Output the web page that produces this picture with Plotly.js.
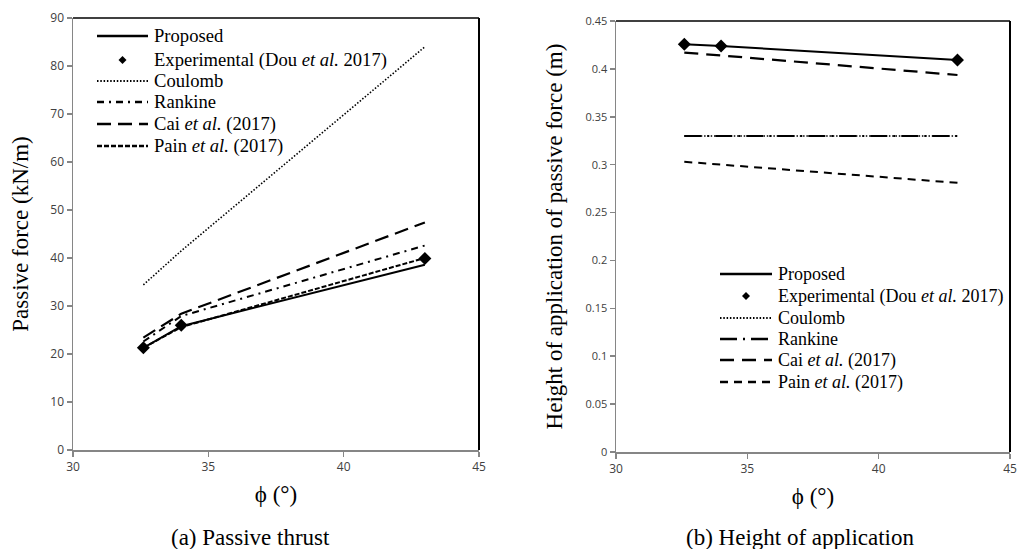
<!DOCTYPE html>
<html>
<head>
<meta charset="utf-8">
<script src="https://cdn.plot.ly/plotly-3.0.1.min.js"></script>
<style>html,body{margin:0;padding:0;background:#fff}#chart{width:1018px;height:549px}</style>
</head>
<body>
<div id="chart"></div>
<script>
// Friction angle (degrees)
const phi = [32.6, 34, 43];

// (a) Passive thrust, kN/m
const proposedP = [21.3, 25.8, 38.6];
const experimentalP = [21.3, 26.0, 39.9];
const coulombP = [34.4, 41.5, 84.0];
const rankineP = [22.6, 27.9, 42.6];
const caiP = [23.4, 28.4, 47.4];
const painP = [21.3, 25.6, 40.0];

// (b) Height of application, m
const proposedH = [0.4257, 0.4239, 0.4093];
const experimentalH = [0.4257, 0.4239, 0.4093];
const coulombH = [0.330, 0.330, 0.330];
const rankineH = [0.330, 0.330, 0.330];
const caiH = [0.417, 0.414, 0.3936];
const painH = [0.303, 0.300, 0.281];

const seriesNames = ['Proposed', 'Experimental (Dou <i>et al.</i> 2017)', 'Coulomb', 'Rankine',
  'Cai <i>et al.</i> (2017)', 'Pain <i>et al.</i> (2017)'];

const W = 1018, H = 549;
const serif = 'Liberation Serif, Times New Roman, serif';
const tickFont = {family: 'Open Sans, sans-serif', size: 12, color: '#404040'};

// line styles: [dash, width]; index 1 is the marker series
const stylesA = [['solid', 2], null, ['1.5px,1.8px', 1.6], ['7px,5px,2px,5px', 2], ['14px,7px', 2.2], ['5px,2px', 2]];
const stylesB = [['solid', 2], null, ['1.5px,1.8px', 1.6], ['17px,6px,2px,6px', 2], ['14px,8px', 2.2], ['8px,6px', 2]];

function lineTrace(x, y, name, st, xa, ya) {
  return {x: x, y: y, name: name, type: 'scatter', mode: 'lines', showlegend: false,
    line: {color: '#000', width: st[1], dash: st[0]}, xaxis: xa, yaxis: ya};
}
function markerTrace(x, y, name, xa, ya) {
  return {x: x, y: y, name: name, type: 'scatter', mode: 'markers', showlegend: false,
    marker: {symbol: 'diamond', color: '#000', size: 10}, xaxis: xa, yaxis: ya};
}

const dataA = [proposedP, experimentalP, coulombP, rankineP, caiP, painP];
const dataB = [proposedH, experimentalH, coulombH, rankineH, caiH, painH];
const traces = [];
dataA.forEach((d, i) => traces.push(i === 1 ? markerTrace(phi, d, seriesNames[i], 'x', 'y')
                                            : lineTrace(phi, d, seriesNames[i], stylesA[i], 'x', 'y')));
dataB.forEach((d, i) => traces.push(i === 1 ? markerTrace(phi, d, seriesNames[i], 'x2', 'y2')
                                            : lineTrace(phi, d, seriesNames[i], stylesB[i], 'x2', 'y2')));

// hand-built legends (layout positions in px)
const shapes = [], annotations = [];
function px(x) { return x / W; }
function py(y) { return 1 - y / H; }
function buildLegend(x0, x1, xt, rows, styles, fs) {
  seriesNames.forEach((nm, i) => {
    const y = rows[i];
    if (styles[i]) {
      shapes.push({type: 'line', xref: 'paper', yref: 'paper', x0: px(x0), x1: px(x1), y0: py(y), y1: py(y),
        line: {color: '#000', width: styles[i][1] + 0.5, dash: styles[i][0]}});
    } else {
      const cx = (x0 + x1) / 2, r = 4;
      shapes.push({type: 'path', xref: 'paper', yref: 'paper', fillcolor: '#000', line: {width: 0},
        path: `M${px(cx)},${py(y - r)} L${px(cx + r)},${py(y)} L${px(cx)},${py(y + r)} L${px(cx - r)},${py(y)} Z`});
    }
    annotations.push({text: nm, xref: 'paper', yref: 'paper', x: px(xt), y: py(y), xanchor: 'left', yanchor: 'middle',
      showarrow: false, font: {family: serif, size: fs, color: '#000'}});
  });
}
buildLegend(97, 148, 152, [36, 60, 81, 102, 124, 146], stylesA, 18.6);
buildLegend(720, 772, 776, [274, 296, 318, 339, 360, 382], stylesB, 18);

const axisCommon = {
  showgrid: false, zeroline: false, showline: true, linecolor: '#868686', linewidth: 1.5,
  ticks: 'outside', ticklen: 5, tickcolor: '#868686', tickwidth: 1.5,
  tickfont: tickFont, automargin: false, fixedrange: true
};

shapes.push(
  {type: 'line', xref: 'x domain', yref: 'y domain', x0: 0, x1: 1, y0: 1, y1: 1, line: {color: '#000', width: 1.5}},
  {type: 'line', xref: 'x domain', yref: 'y domain', x0: 1, x1: 1, y0: 0, y1: 1, line: {color: '#000', width: 2}},
  {type: 'line', xref: 'x2 domain', yref: 'y2 domain', x0: 0, x1: 1, y0: 1, y1: 1, line: {color: '#000', width: 1.5}},
  {type: 'line', xref: 'x2 domain', yref: 'y2 domain', x0: 1, x1: 1, y0: 0, y1: 1, line: {color: '#000', width: 2}}
);
annotations.push(
  {text: '(a) Passive thrust', xref: 'paper', yref: 'paper', x: px(250), y: py(537),
   xanchor: 'center', yanchor: 'middle', showarrow: false, font: {family: serif, size: 23, color: '#000'}},
  {text: '(b) Height of application', xref: 'paper', yref: 'paper', x: px(800), y: py(537),
   xanchor: 'center', yanchor: 'middle', showarrow: false, font: {family: serif, size: 23, color: '#000'}}
);

const layout = {
  width: W, height: H,
  margin: {l: 0, r: 0, t: 0, b: 0},
  paper_bgcolor: '#fff', plot_bgcolor: '#fff',
  showlegend: false,
  xaxis: Object.assign({}, axisCommon, {
    domain: [px(73), px(479)], range: [30, 45], dtick: 5, tick0: 30,
    title: {text: 'ϕ (°)', font: {family: serif, size: 23, color: '#000'}, standoff: 12}
  }),
  yaxis: Object.assign({}, axisCommon, {
    domain: [py(450), py(18)], range: [0, 90], dtick: 10, tick0: 0,
    title: {text: 'Passive force (kN/m)', font: {family: serif, size: 23, color: '#000'}, standoff: 15}
  }),
  xaxis2: Object.assign({}, axisCommon, {
    domain: [px(616), px(1010)], range: [30, 45], dtick: 5, tick0: 30, anchor: 'y2',
    title: {text: 'ϕ (°)', font: {family: serif, size: 23, color: '#000'}, standoff: 12}
  }),
  yaxis2: Object.assign({}, axisCommon, {
    domain: [py(452), py(21)], range: [0, 0.45], dtick: 0.05, tick0: 0, anchor: 'x2',
    tickfont: {family: 'Open Sans, sans-serif', size: 11, color: '#404040'},
    title: {text: 'Height of application of passive force (m)', font: {family: serif, size: 23, color: '#000'}, standoff: 16}
  }),
  shapes: shapes,
  annotations: annotations
};

Plotly.newPlot('chart', traces, layout, {displayModeBar: false, staticPlot: true});
</script>
</body>
</html>
